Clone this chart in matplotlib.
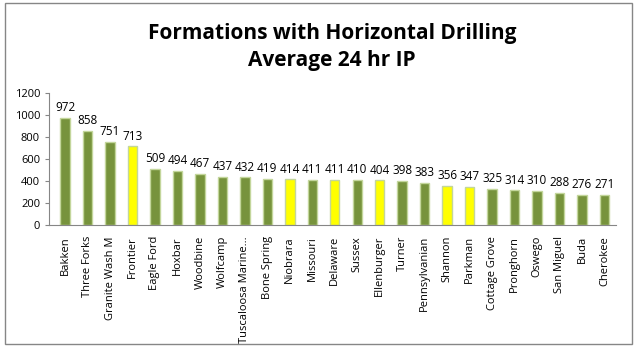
import matplotlib.pyplot as plt
from matplotlib.patches import Rectangle

# formations and their average 24 hr IP
formations = ["Bakken", "Three Forks", "Granite Wash M", "Frontier", "Eagle Ford",
              "Hoxbar", "Woodbine", "Wolfcamp", "Tuscaloosa Marine...", "Bone Spring",
              "Niobrara", "Missouri", "Delaware", "Sussex", "Ellenburger", "Turner",
              "Pennsylvanian", "Shannon", "Parkman", "Cottage Grove", "Pronghorn",
              "Oswego", "San Miguel", "Buda", "Cherokee"]
avg_ip = [972, 858, 751, 713, 509, 494, 467, 437, 432, 419, 414, 411, 411,
          410, 404, 398, 383, 356, 347, 325, 314, 310, 288, 276, 271]
highlighted = ["Frontier", "Niobrara", "Delaware", "Ellenburger", "Shannon", "Parkman"]

plt.rcParams['font.family'] = ['Open Sans', 'DejaVu Sans']

fig = plt.figure(figsize=(6.38, 3.52), dpi=100)
ax = fig.add_axes([0.077, 0.361, 0.888, 0.375])

colors = ["#FFFF00" if f in highlighted else "#77933C" for f in formations]
x = range(len(formations))
ax.bar(x, avg_ip, width=0.42, color=colors, edgecolor="#C3D69B", linewidth=1)

for i, v in enumerate(avg_ip):
    ax.text(i, v + 35, str(v), ha="center", va="bottom", fontsize=8.5)

# small gap between the y axis and the first category, as in the original
ax.set_xlim(-0.71, len(formations) - 0.5)
ax.set_ylim(0, 1200)
ax.set_yticks(range(0, 1201, 200))
ax.tick_params(axis="y", labelsize=8, length=3, color="#868686")
ax.set_xticks(list(x))
ax.set_xticklabels(formations, rotation=90, fontsize=8)
ax.tick_params(axis="x", length=0, pad=8)

for s in ["top", "right"]:
    ax.spines[s].set_visible(False)
ax.spines["left"].set_color("#868686")
ax.spines["bottom"].set_color("#868686")

fig.text(0.52, 0.866, "Formations with Horizontal Drilling\nAverage 24 hr IP",
         ha="center", va="center", fontsize=15, fontweight="bold", linespacing=1.35)

fig.patches.append(Rectangle((0.008, 0.022), 0.983, 0.97, transform=fig.transFigure,
                             fill=False, edgecolor="#868686", linewidth=1))

fig.savefig("out.png", dpi=100)
